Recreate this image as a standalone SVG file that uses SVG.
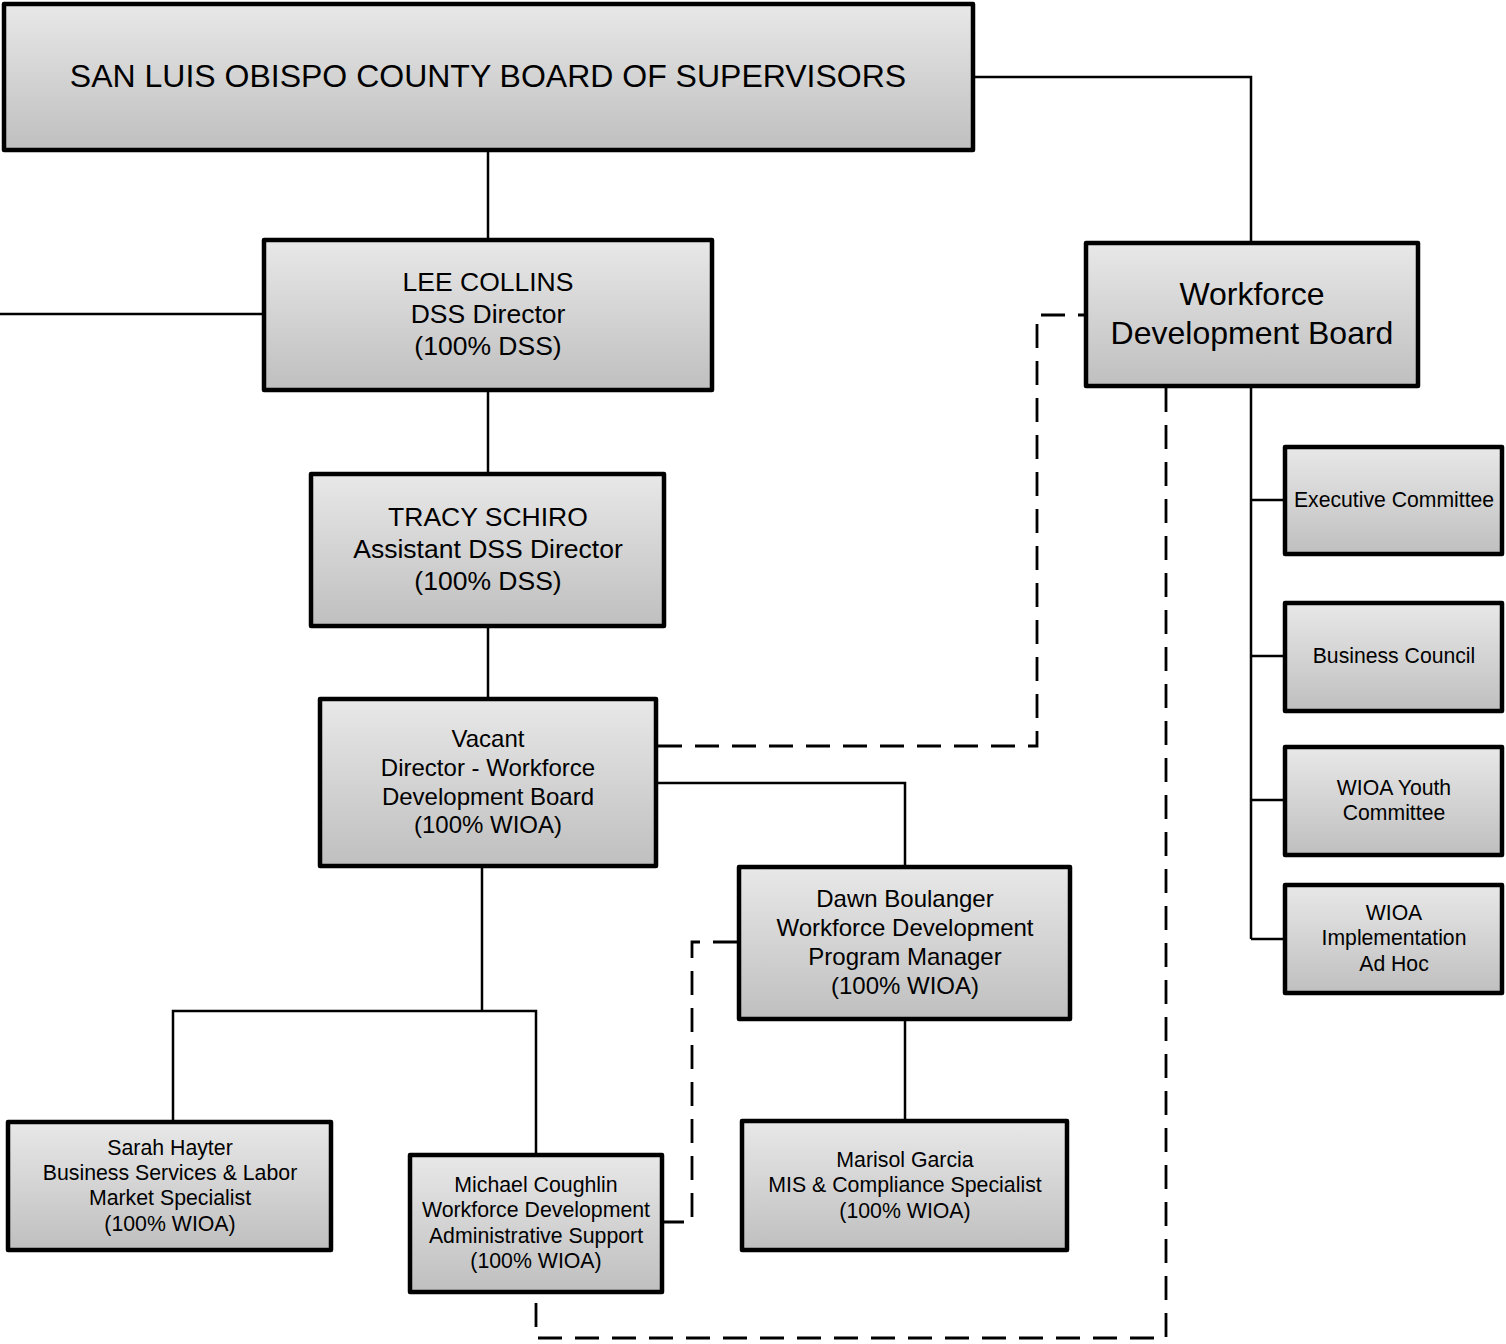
<svg xmlns="http://www.w3.org/2000/svg" width="1506" height="1344" viewBox="0 0 1506 1344">
<defs>
<linearGradient id="g" x1="0" y1="0" x2="0" y2="1">
<stop offset="0" stop-color="#e8e8e8"/>
<stop offset="1" stop-color="#bfbfbf"/>
</linearGradient>
</defs>
<style>
.box{fill:url(#g);stroke:#000;stroke-width:4.5;stroke-linejoin:round}
.t{font-family:"Liberation Sans",Arial,sans-serif;fill:#000;text-anchor:middle}
.c{fill:none;stroke:#000;stroke-width:2.5}
.d{fill:none;stroke:#000;stroke-width:2.8;stroke-dasharray:24 13}
</style>
<rect width="1506" height="1344" fill="#fff"/>
<g id="connectors">
<path class="c" d="M488 152V238"/>
<path class="c" d="M975 77H1251V241"/>
<path class="c" d="M0 314H262"/>
<path class="c" d="M488 392V472"/>
<path class="c" d="M488 628V697"/>
<path class="c" d="M658 783H905V865"/>
<path class="c" d="M482 868V1011"/>
<path class="c" d="M173 1120V1011H536V1153"/>
<path class="c" d="M905 1021V1119"/>
<path class="c" d="M1251 388V939"/>
<path class="c" d="M1251 500H1283M1251 656H1283M1251 800H1283M1251 939H1283"/>
<path class="d" d="M658 746H1037V315H1084"/>
<path class="d" d="M737 942H692V1222H664"/>
<path class="d" d="M1166 388V1338H536V1294"/>
</g>
<g id="bos"><rect class="box" x="4" y="4" width="969" height="146"/>
<text class="t" x="488" y="87" font-size="32">SAN LUIS OBISPO COUNTY BOARD OF SUPERVISORS</text></g>
<g id="lee"><rect class="box" x="264" y="240" width="448" height="150"/>
<text class="t" font-size="26.5"><tspan x="488" y="291">LEE COLLINS</tspan><tspan x="488" y="323">DSS Director</tspan><tspan x="488" y="355">(100% DSS)</tspan></text></g>
<g id="tracy"><rect class="box" x="311" y="474" width="353" height="152"/>
<text class="t" font-size="26.5"><tspan x="488" y="526">TRACY SCHIRO</tspan><tspan x="488" y="558">Assistant DSS Director</tspan><tspan x="488" y="590">(100% DSS)</tspan></text></g>
<g id="vacant"><rect class="box" x="320" y="699" width="336" height="167"/>
<text class="t" font-size="24"><tspan x="488" y="747">Vacant</tspan><tspan x="488" y="776">Director - Workforce</tspan><tspan x="488" y="805">Development Board</tspan><tspan x="488" y="833">(100% WIOA)</tspan></text></g>
<g id="wdb"><rect class="box" x="1086" y="243" width="332" height="143"/>
<text class="t" font-size="32"><tspan x="1252" y="305">Workforce</tspan><tspan x="1252" y="344">Development Board</tspan></text></g>
<g id="exec"><rect class="box" x="1285" y="447" width="217" height="107"/>
<text class="t" font-size="21.2"><tspan x="1394" y="507">Executive Committee</tspan></text></g>
<g id="business"><rect class="box" x="1285" y="603" width="217" height="108"/>
<text class="t" font-size="21.2"><tspan x="1394" y="663">Business Council</tspan></text></g>
<g id="youth"><rect class="box" x="1285" y="747" width="217" height="108"/>
<text class="t" font-size="21.2"><tspan x="1394" y="795">WIOA Youth</tspan><tspan x="1394" y="820">Committee</tspan></text></g>
<g id="adhoc"><rect class="box" x="1285" y="885" width="217" height="108"/>
<text class="t" font-size="21.2"><tspan x="1394" y="920">WIOA</tspan><tspan x="1394" y="945">Implementation</tspan><tspan x="1394" y="971">Ad Hoc</tspan></text></g>
<g id="dawn"><rect class="box" x="739" y="867" width="331" height="152"/>
<text class="t" font-size="24"><tspan x="905" y="907">Dawn Boulanger</tspan><tspan x="905" y="936">Workforce Development</tspan><tspan x="905" y="965">Program Manager</tspan><tspan x="905" y="994">(100% WIOA)</tspan></text></g>
<g id="marisol"><rect class="box" x="742" y="1121" width="325" height="129"/>
<text class="t" font-size="21.3"><tspan x="905" y="1167">Marisol Garcia</tspan><tspan x="905" y="1192">MIS &amp; Compliance Specialist</tspan><tspan x="905" y="1218">(100% WIOA)</tspan></text></g>
<g id="sarah"><rect class="box" x="8" y="1122" width="323" height="128"/>
<text class="t" font-size="21.3"><tspan x="170" y="1155">Sarah Hayter</tspan><tspan x="170" y="1180">Business Services &amp; Labor</tspan><tspan x="170" y="1205">Market Specialist</tspan><tspan x="170" y="1231">(100% WIOA)</tspan></text></g>
<g id="michael"><rect class="box" x="410" y="1155" width="252" height="137"/>
<text class="t" font-size="21.3"><tspan x="536" y="1192">Michael Coughlin</tspan><tspan x="536" y="1217">Workforce Development</tspan><tspan x="536" y="1243">Administrative Support</tspan><tspan x="536" y="1268">(100% WIOA)</tspan></text></g>
</svg>
